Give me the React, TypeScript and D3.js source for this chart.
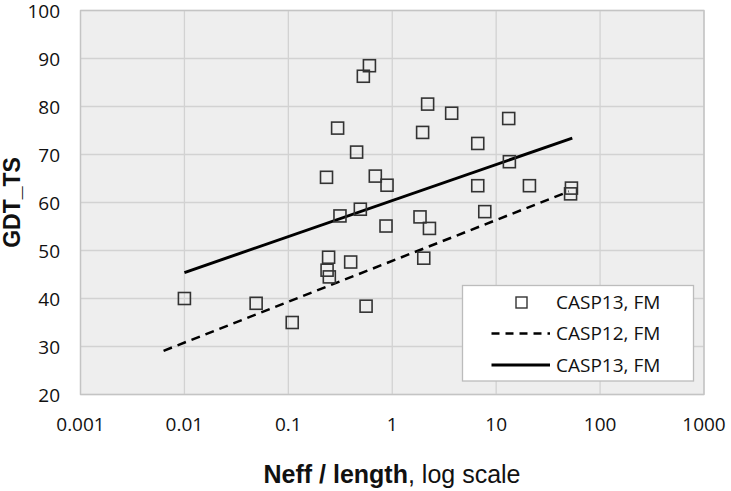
import React from "react";
import * as d3 from "d3";

const xTicks = [0.001, 0.01, 0.1, 1, 10, 100, 1000];
const xTickLabels = ["0.001", "0.01", "0.1", "1", "10", "100", "1000"];
const yTicks = [20, 30, 40, 50, 60, 70, 80, 90, 100];

// CASP13 FM targets: Neff/length and GDT_TS
const neff = [
  0.01, 0.049, 0.109, 0.236, 0.244, 0.248, 0.233, 0.298, 0.314, 0.398, 0.454,
  0.493, 0.527, 0.56, 0.603, 0.687, 0.871, 0.891, 1.85, 1.96, 2.01, 2.19, 2.28,
  3.73, 6.65, 6.65, 7.77, 13.2, 13.4, 20.9, 52, 53,
];
const gdt = [
  40, 39, 35, 45.9, 48.6, 44.5, 65.25, 75.5, 57.2, 47.6, 70.5, 58.6, 86.3, 38.4,
  88.5, 65.5, 55.1, 63.6, 57.0, 74.6, 48.4, 80.5, 54.6, 78.6, 72.3, 63.5, 58.1,
  77.5, 68.5, 63.5, 61.8, 63,
];

// Trend lines (endpoints)
const trend13X = [0.01, 54];
const trend13Y = [45.4, 73.4];
const trend12X = [0.0063, 50];
const trend12Y = [29.1, 62.3];

const legendLabels = ["CASP13, FM", "CASP12, FM", "CASP13, FM"];

export default function App() {
  const W = 731,
    H = 491;
  const x = d3.scaleLog().domain([0.001, 1000]).range([80.5, 704]);
  const y = d3.scaleLinear().domain([20, 100]).range([394.5, 10.5]);
  const line = d3
    .line<[number, number]>()
    .x((d) => x(d[0]))
    .y((d) => y(d[1]));
  const t13: [number, number][] = trend13X.map((v, i) => [v, trend13Y[i]]);
  const t12: [number, number][] = trend12X.map((v, i) => [v, trend12Y[i]]);
  const tickFont = "'Open Sans', sans-serif";
  const ms = 12;
  const lx0 = 462.5,
    ly0 = 285.5,
    lw = 231,
    lh = 95.5;
  const rows = [302.5, 333.5, 365];
  return (
    <svg
      width={W}
      height={H}
      style={{ position: "absolute", left: 0, top: 0, background: "#fff" }}
    >
      <rect x={80.5} y={10.5} width={704 - 80.5} height={384} fill="#eeeeee" />
      {yTicks.map((t) => (
        <line
          key={"gy" + t}
          x1={80.5}
          x2={704}
          y1={y(t)}
          y2={y(t)}
          stroke="#d2d2d2"
          strokeWidth={1.3}
        />
      ))}
      {xTicks.map((t) => (
        <line
          key={"gx" + t}
          x1={x(t)}
          x2={x(t)}
          y1={10.5}
          y2={394.5}
          stroke="#d2d2d2"
          strokeWidth={1.3}
        />
      ))}
      <rect
        x={80.5}
        y={10.5}
        width={704 - 80.5}
        height={384}
        fill="none"
        stroke="#c4c4c4"
        strokeWidth={1.3}
      />
      {yTicks.map((t) => (
        <text
          key={"ty" + t}
          x={60}
          y={y(t)}
          dy="0.38em"
          textAnchor="end"
          fontFamily={tickFont}
          fontSize={19}
          fill="#111"
        >
          {t}
        </text>
      ))}
      {xTicks.map((t, i) => (
        <text
          key={"tx" + t}
          x={x(t)}
          y={431}
          textAnchor="middle"
          fontFamily={tickFont}
          fontSize={19}
          fill="#111"
        >
          {xTickLabels[i]}
        </text>
      ))}
      <path
        d={line(t12) || ""}
        fill="none"
        stroke="#000"
        strokeWidth={2.5}
        strokeDasharray="9,6"
      />
      <path d={line(t13) || ""} fill="none" stroke="#000" strokeWidth={3} />
      {neff.map((v, i) => (
        <rect
          key={"p" + i}
          x={x(v) - ms / 2}
          y={y(gdt[i]) - ms / 2}
          width={ms}
          height={ms}
          fill="none"
          stroke="#333"
          strokeWidth={1.6}
        />
      ))}
      <rect
        x={lx0}
        y={ly0}
        width={lw}
        height={lh}
        fill="#fff"
        stroke="#bcbcbc"
        strokeWidth={1.3}
      />
      <rect
        x={521.5 - 5.5}
        y={rows[0] - 5.5}
        width={11}
        height={11}
        fill="none"
        stroke="#333"
        strokeWidth={1.4}
      />
      <line
        x1={491.5}
        x2={550}
        y1={rows[1]}
        y2={rows[1]}
        stroke="#000"
        strokeWidth={2.5}
        strokeDasharray="8,6"
      />
      <line
        x1={491.5}
        x2={550}
        y1={rows[2]}
        y2={rows[2]}
        stroke="#000"
        strokeWidth={3}
      />
      {legendLabels.map((l, i) => (
        <text
          key={"l" + i}
          x={556}
          y={rows[i]}
          dy="0.36em"
          fontFamily={tickFont}
          fontSize={19}
          fill="#111"
        >
          {l}
        </text>
      ))}
      <text
        x={392}
        y={483}
        textAnchor="middle"
        fontFamily="'Liberation Sans', Arial, sans-serif"
        fontSize={25}
        fill="#111"
      >
        <tspan fontWeight="bold">Neff / length</tspan>
        <tspan>, log scale</tspan>
      </text>
      <text
        transform={`translate(20,${202.5}) rotate(-90)`}
        textAnchor="middle"
        fontFamily="'Liberation Sans', Arial, sans-serif"
        fontWeight="bold"
        fontSize={23}
        fill="#111"
      >
        GDT_TS
      </text>
    </svg>
  );
}
